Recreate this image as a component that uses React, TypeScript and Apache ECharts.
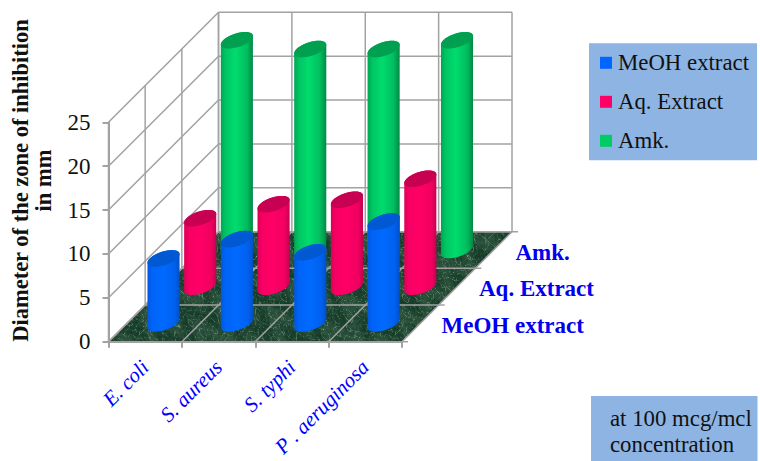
import React, { useEffect, useRef } from "react";
import * as echarts from "echarts";

const categories = ["E. coli", "S. aureus", "S. typhi", "P . aeruginosa"];
const seriesNames = ["MeOH extract", "Aq. Extract", "Amk."];
const meohValues = [7.4, 9.6, 8.1, 11.6];
const aqValues = [7.8, 9.4, 9.9, 12.3];
const amkValues = [23.9, 22.9, 22.9, 23.9];
const noteLines = ["at 100 mcg/mcl", "concentration"];

const SERIF = '"Liberation Serif", "Times New Roman", serif';
const Y_MAX = 25;
const Y_STEP = 5;
const DEPTH_PX = 36.67;
const DEPTHS = 3;
const GRID_COLOR = "#a2a2a2";

function marbleTexture(): string {
  const size = 256;
  const c = document.createElement("canvas");
  c.width = size;
  c.height = size;
  const ctx = c.getContext("2d")!;
  const img = ctx.createImageData(size, size);
  const w = (Math.PI * 2) / size;
  for (let y = 0; y < size; y++) {
    for (let x = 0; x < size; x++) {
      const a = Math.sin(3 * w * x + 5 * w * y + 2.4 * Math.sin(7 * w * y + 2 * w * x) + 1.2 * Math.sin(19 * w * x - 11 * w * y));
      const b = Math.sin(9 * w * x - 4 * w * y + 2.1 * Math.sin(5 * w * x + 8 * w * y) + 0.9 * Math.sin(23 * w * y + 13 * w * x));
      const d = Math.sin(31 * w * x + 17 * w * y + 1.7 * Math.sin(29 * w * y - 37 * w * x));
      const e = Math.sin(4 * w * x + 3 * w * y + 1.9 * Math.sin(6 * w * x - 5 * w * y));
      const vein = Math.pow(1 - Math.abs(a), 9) * 0.42 + Math.pow(1 - Math.abs(b), 12) * 0.32;
      const t = Math.min(1, vein + (d + 1) * 0.035 + (e + 1) * 0.07);
      const i = (y * size + x) * 4;
      img.data[i] = 20 + t * 130;
      img.data[i + 1] = 58 + t * 130;
      img.data[i + 2] = 40 + t * 115;
      img.data[i + 3] = 255;
    }
  }
  ctx.putImageData(img, 0, 0);
  return c.toDataURL();
}

function gradient(stops: [number, string][]) {
  return new echarts.graphic.LinearGradient(
    0, 0, 1, 0,
    stops.map(([offset, color]) => ({ offset, color }))
  );
}

const looks = [
  {
    color: "#0066ff",
    top: "#0058d2",
    body: [[0, "#0058e0"], [0.15, "#0064f8"], [0.5, "#006aff"], [0.85, "#0060ee"], [1, "#0050c8"]] as [number, string][],
  },
  {
    color: "#ff0066",
    top: "#c80052",
    body: [[0, "#dc0058"], [0.15, "#f80063"], [0.5, "#ff0066"], [0.85, "#f00060"], [1, "#c40050"]] as [number, string][],
  },
  {
    color: "#00cc66",
    top: "#00a050",
    body: [[0, "#00a653"], [0.15, "#00c563"], [0.45, "#00dc6e"], [0.8, "#00bf60"], [1, "#008a45"]] as [number, string][],
  },
];

function planePoint(api: any, cat: number, value: number, depth: number): number[] {
  const band = api.size([1, 0])[0];
  const p = api.coord([0, value]);
  return [p[0] - band / 2 + cat * band + depth * DEPTH_PX, p[1] - depth * DEPTH_PX];
}

function line(a: number[], b: number[], color = GRID_COLOR, width = 1.5) {
  return {
    type: "line",
    shape: { x1: a[0], y1: a[1], x2: b[0], y2: b[1] },
    style: { stroke: color, lineWidth: width, fill: "none" },
  };
}

function wallsRenderer(texture: string) {
  return (_params: any, api: any) => {
    const n = categories.length;
    const children: any[] = [];
    children.push({
      type: "polygon",
      shape: {
        points: [
          planePoint(api, 0, 0, 0),
          planePoint(api, n, 0, 0),
          planePoint(api, n, 0, DEPTHS),
          planePoint(api, 0, 0, DEPTHS),
        ],
      },
      style: { fill: { image: texture, imageWidth: 256, imageHeight: 256, repeat: "repeat" } },
    });
    for (let v = 0; v <= Y_MAX; v += Y_STEP) {
      children.push(line(planePoint(api, 0, v, 0), planePoint(api, 0, v, DEPTHS)));
      children.push(line(planePoint(api, 0, v, DEPTHS), planePoint(api, n, v, DEPTHS)));
    }
    for (let c = 0; c <= n; c++) {
      children.push(line(planePoint(api, c, 0, DEPTHS), planePoint(api, c, Y_MAX, DEPTHS)));
      children.push(line(planePoint(api, c, 0, 0), planePoint(api, c, 0, DEPTHS)));
    }
    for (let d = 0; d <= DEPTHS; d++) {
      children.push(line(planePoint(api, 0, 0, d), planePoint(api, 0, Y_MAX, d)));
      const end = planePoint(api, n, 0, d);
      children.push(line(planePoint(api, 0, 0, d), [end[0] + 6, end[1]]));
    }
    return { type: "group", children };
  };
}

function cylinderRenderer(depthIndex: number) {
  const look = looks[depthIndex];
  return (_params: any, api: any) => {
    const cat = api.value(0);
    const value = api.value(1);
    const band = api.size([1, 0])[0];
    const base = planePoint(api, cat + 0.5, 0, depthIndex + 0.5);
    const top = planePoint(api, cat + 0.5, value, depthIndex + 0.5);
    const rx = band * 0.187;
    const rd = DEPTH_PX * 0.227;
    const ell = (c: number[], t: number) => [
      c[0] + rx * Math.cos(t) + rd * Math.sin(t),
      c[1] - rd * Math.sin(t),
    ];
    const t0 = Math.atan2(rd, rx);
    const steps = 36;
    const bodyPts: number[][] = [];
    for (let i = 0; i <= steps; i++) bodyPts.push(ell(top, t0 + (Math.PI * i) / steps));
    for (let i = 0; i <= steps; i++) bodyPts.push(ell(base, t0 + Math.PI + (Math.PI * i) / steps));
    const topPts: number[][] = [];
    for (let i = 0; i < steps * 2; i++) topPts.push(ell(top, (Math.PI * i) / steps));
    return {
      type: "group",
      children: [
        { type: "polygon", shape: { points: bodyPts }, style: { fill: gradient(look.body) } },
        { type: "polygon", shape: { points: topPts }, style: { fill: look.top } },
      ],
    };
  };
}

const seriesValues = [meohValues, aqValues, amkValues];

export default function App() {
  const ref = useRef<HTMLDivElement>(null);
  useEffect(() => {
    const chart = echarts.init(ref.current!, undefined, { renderer: "svg" });
    const texture = marbleTexture();
    chart.setOption({
      animation: false,
      backgroundColor: "#ffffff",
      grid: { left: 108.5, right: 358, top: 122.3, bottom: 119.3, containLabel: false, outerBoundsMode: "none" },
      legend: {
        left: 589,
        top: 43.3,
        orient: "vertical",
        backgroundColor: "#8EB4E3",
        borderRadius: 0,
        padding: [8, 8, 8, 11],
        itemWidth: 12,
        itemHeight: 12,
        itemGap: 16,
        icon: "rect",
        selectedMode: false,
        data: seriesNames,
        textStyle: { fontFamily: SERIF, fontSize: 22.8, color: "#111111", padding: [0, 0, 0, 1] },
      },
      xAxis: {
        type: "category",
        data: categories,
        z: 5,
        axisLine: { lineStyle: { color: GRID_COLOR, width: 2 } },
        axisTick: { show: true, length: 6, lineStyle: { color: GRID_COLOR, width: 2 } },
        axisLabel: {
          rotate: 45,
          interval: 0,
          margin: 22,
          fontFamily: SERIF,
          fontStyle: "italic",
          fontSize: 21,
          color: "#0000ff",
        },
      },
      yAxis: {
        type: "value",
        min: 0,
        max: Y_MAX,
        interval: Y_STEP,
        z: 5,
        splitLine: { show: false },
        axisLine: { show: true, lineStyle: { color: GRID_COLOR, width: 2 } },
        axisTick: { show: true, length: 6, lineStyle: { color: GRID_COLOR, width: 2 } },
        axisLabel: { margin: 18, fontFamily: SERIF, fontSize: 23, color: "#111111" },
      },
      series: [
        {
          type: "custom",
          name: "walls",
          silent: true,
          clip: false,
          z: 1,
          data: [[0, 0]],
          encode: { x: 0, y: 1 },
          renderItem: wallsRenderer(texture),
        },
        ...seriesNames.map((name, depthIndex) => ({
          type: "custom",
          name,
          clip: false,
          z: 10 - depthIndex,
          itemStyle: { color: looks[depthIndex].color },
          data: seriesValues[depthIndex].map((v, i) => [i, v]),
          encode: { x: 0, y: 1 },
          renderItem: cylinderRenderer(depthIndex),
        })),
      ],
      graphic: [
        {
          type: "text",
          x: 32,
          y: 180.5,
          rotation: Math.PI / 2,
          style: {
            text: "Diameter of the zone of inhibition\nin mm",
            fontFamily: SERIF,
            fontWeight: "bold",
            fontSize: 22.5,
            lineHeight: 23,
            fill: "#111111",
            align: "center",
            verticalAlign: "middle",
          },
        },
        { type: "text", x: 441.5, y: 325, style: { text: seriesNames[0], fontFamily: SERIF, fontWeight: "bold", fontSize: 23, fill: "#0000ee", verticalAlign: "middle" } },
        { type: "text", x: 479, y: 288, style: { text: seriesNames[1], fontFamily: SERIF, fontWeight: "bold", fontSize: 23, fill: "#0000ee", verticalAlign: "middle" } },
        { type: "text", x: 515.5, y: 252, style: { text: seriesNames[2], fontFamily: SERIF, fontWeight: "bold", fontSize: 23, fill: "#0000ee", verticalAlign: "middle" } },
        { type: "rect", shape: { x: 591, y: 396, width: 166.5, height: 65 }, style: { fill: "#8EB4E3" } },
        {
          type: "text",
          x: 610,
          y: 431,
          style: {
            text: noteLines.join("\n"),
            fontFamily: SERIF,
            fontSize: 22.8,
            lineHeight: 26,
            fill: "#111111",
            verticalAlign: "middle",
          },
        },
      ],
    });
    return () => chart.dispose();
  }, []);
  return <div ref={ref} style={{ position: "absolute", left: 0, top: 0, width: 760, height: 461 }} />;
}
